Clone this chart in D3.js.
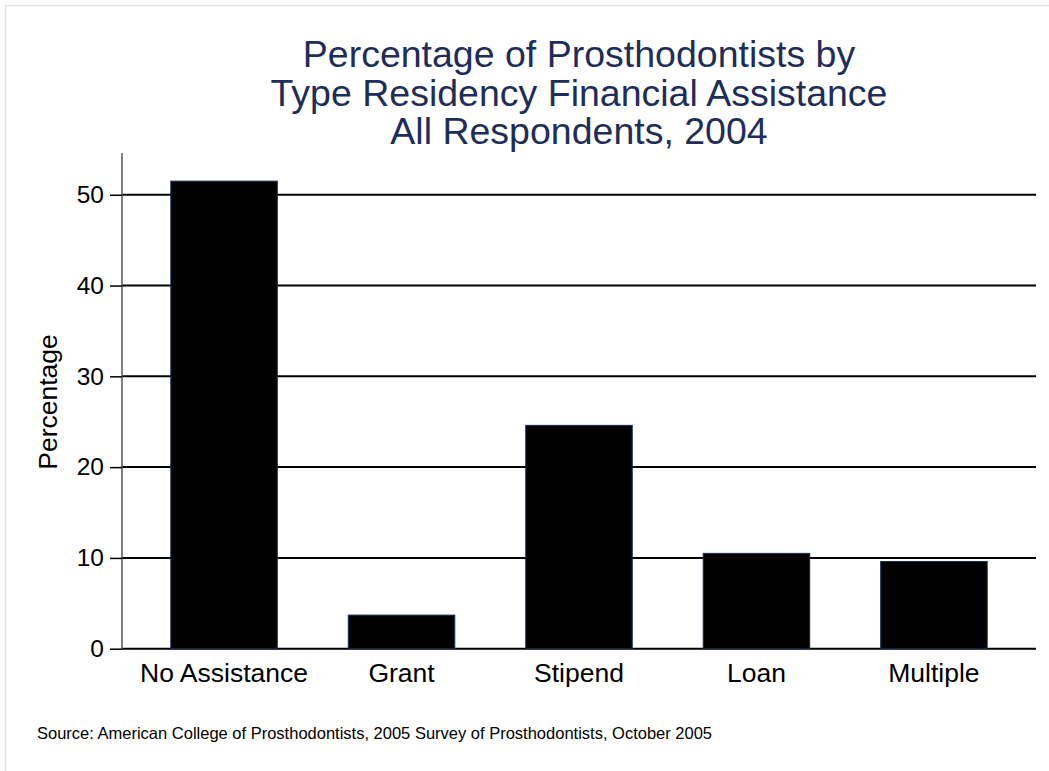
<!DOCTYPE html>
<html>
<head>
<meta charset="utf-8">
<script src="https://cdn.jsdelivr.net/npm/d3@7"></script>
<style>
  html, body { margin: 0; padding: 0; background: #fff; }
  svg { display: block; font-family: "Liberation Sans", Arial, sans-serif; }
</style>
</head>
<body>
<svg id="chart" width="1049" height="771"></svg>
<script>
const categories = ["No Assistance", "Grant", "Stipend", "Loan", "Multiple"];
const percentages = [51.5, 3.7, 24.6, 10.5, 9.6];
const yTicks = [0, 10, 20, 30, 40, 50];
const titleLines = ["Percentage of Prosthodontists by", "Type Residency Financial Assistance", "All Respondents, 2004"];
const yTitle = "Percentage";
const sourceNote = "Source: American College of Prosthodontists, 2005 Survey of Prosthodontists, October 2005";

const svg = d3.select("#chart");
const plotLeft = 122, plotRight = 1036, plotTop = 153, plotBottom = 648.7;

// outer frame
svg.append("rect").attr("x", 5.5).attr("y", 5.5).attr("width", 1100).attr("height", 800)
  .attr("fill", "none").attr("stroke", "#e4e4f0").attr("stroke-width", 1.5);

const x = d3.scaleBand().domain(categories).range([plotLeft, plotRight])
  .paddingInner(0.4).paddingOuter(0.275);
const y = d3.scaleLinear().domain([0, 54.6]).range([plotBottom, plotTop]);

// gridlines
svg.append("g").selectAll("line").data(yTicks).join("line")
  .attr("x1", plotLeft).attr("x2", plotRight)
  .attr("y1", d => y(d)).attr("y2", d => y(d))
  .attr("stroke", "#000").attr("stroke-width", 2);

// bars
svg.append("g").selectAll("rect").data(categories).join("rect")
  .attr("x", d => x(d))
  .attr("width", x.bandwidth())
  .attr("y", (d, i) => y(percentages[i]))
  .attr("height", (d, i) => y(0) - y(percentages[i]))
  .attr("fill", "#000").attr("stroke", "#1c2a50").attr("stroke-width", 1);

// y axis
const yAxis = d3.axisLeft(y).tickValues(yTicks).tickSize(12).tickPadding(6).tickFormat(d3.format("d"));
const ga = svg.append("g").attr("transform", `translate(${plotLeft},0)`).call(yAxis);
ga.select(".domain").attr("stroke", "#555").attr("stroke-width", 1.5).attr("d", `M0,${plotTop}V${plotBottom + 1}`);
ga.selectAll(".tick line").attr("stroke", "#000").attr("stroke-width", 1.5);
ga.selectAll(".tick text").attr("font-size", 24.5).attr("fill", "#000")
  .attr("font-family", "Liberation Sans, Arial, sans-serif");

// x axis labels
const xAxis = d3.axisBottom(x).tickSize(0).tickPadding(14);
const gx = svg.append("g").attr("transform", `translate(0,${plotBottom})`).call(xAxis);
gx.select(".domain").remove();
gx.selectAll(".tick text").attr("font-size", 26.5).attr("fill", "#000")
  .attr("font-family", "Liberation Sans, Arial, sans-serif");

// title
svg.append("g").selectAll("text").data(titleLines).join("text")
  .attr("x", (plotLeft + plotRight) / 2).attr("y", (d, i) => 67 + i * 38.5)
  .attr("text-anchor", "middle").attr("font-size", 37.5).attr("fill", "#1f2d59")
  .text(d => d);

// y title
svg.append("text").attr("transform", "translate(57,402) rotate(-90)")
  .attr("text-anchor", "middle").attr("font-size", 26.5).attr("fill", "#000").text(yTitle);

// source
svg.append("text").attr("x", 37).attr("y", 739).attr("font-size", 16.5).attr("fill", "#000").text(sourceNote);
</script>
</body>
</html>
